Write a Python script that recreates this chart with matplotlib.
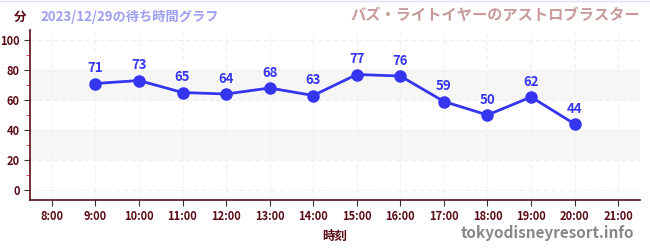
import matplotlib
matplotlib.use("Agg")
import matplotlib.pyplot as plt
from matplotlib.ticker import MultipleLocator

plt.rcParams['font.family'] = ['Noto Sans CJK JP', 'DejaVu Sans']

hours = [9, 10, 11, 12, 13, 14, 15, 16, 17, 18, 19, 20]
waits = [71, 73, 65, 64, 68, 63, 77, 76, 59, 50, 62, 44]
xticks = list(range(8, 22))
xlabels = [f"{h}:00" for h in xticks]
yticks = [0, 20, 40, 60, 80, 100]

dark = '#5a0a14'
fig = plt.figure(figsize=(6.5, 2.5), dpi=100)
ax = fig.add_axes([30/650, 50/250, 610/650, 170/250])
ax.set_xlim(7.5, 21.5)
ax.set_ylim(-6.67, 106.67)

for lo, hi in [(20, 40), (60, 80)]:
    ax.axhspan(lo, hi, color='#f6f6f6', zorder=0, lw=0)

ax.set_xticks(xticks)
ax.set_xticklabels(xlabels)
ax.set_yticks(yticks)
ax.yaxis.set_minor_locator(MultipleLocator(10))
ax.grid(True, which='major', color='#efefef', ls=(0, (4, 3)), lw=0.8, zorder=0.5)

ax.plot(hours, waits, color='#3535f0', lw=2.0, marker='o', ms=8, zorder=3)
for h, w in zip(hours, waits):
    ax.annotate(str(w), (h, w), xytext=(0, 6), textcoords='offset points',
                ha='center', va='bottom', color='#3535f0', fontsize=9.5, fontweight='bold')

for s in ['top', 'right']:
    ax.spines[s].set_visible(False)
for s in ['left', 'bottom']:
    ax.spines[s].set_color(dark)
    ax.spines[s].set_linewidth(1.2)
ax.tick_params(axis='both', which='major', colors='#333333', labelcolor=dark, labelsize=8, length=4)
ax.tick_params(axis='y', which='minor', colors='#dd2222', length=3)
for lab in ax.get_xticklabels() + ax.get_yticklabels():
    lab.set_fontweight('bold')

ax.set_xlabel('時刻', color=dark, fontsize=9, fontweight='bold', labelpad=5)

fig.text(14/650, 1 - 17/250, '分', color=dark, fontsize=9, fontweight='bold', va='center', ha='left')
fig.text(40/650, 1 - 17/250, '2023/12/29の待ち時間グラフ', color='#9e9ef0', fontsize=9.5, fontweight='bold', va='center', ha='left')
fig.text(640/650, 1 - 15/250, 'バズ・ライトイヤーのアストロブラスター', color='#c89a9a', fontsize=11, fontweight='bold', va='center', ha='right')
fig.text(634/650, 1 - 233/250, 'tokyodisneyresort.info', color='#888888', fontsize=11, fontweight='bold', va='center', ha='right')
fig.add_artist(plt.Line2D([0, 1], [0.998, 0.998], color='#e0e0f8', lw=1))

fig.savefig('out.png', dpi=100)
